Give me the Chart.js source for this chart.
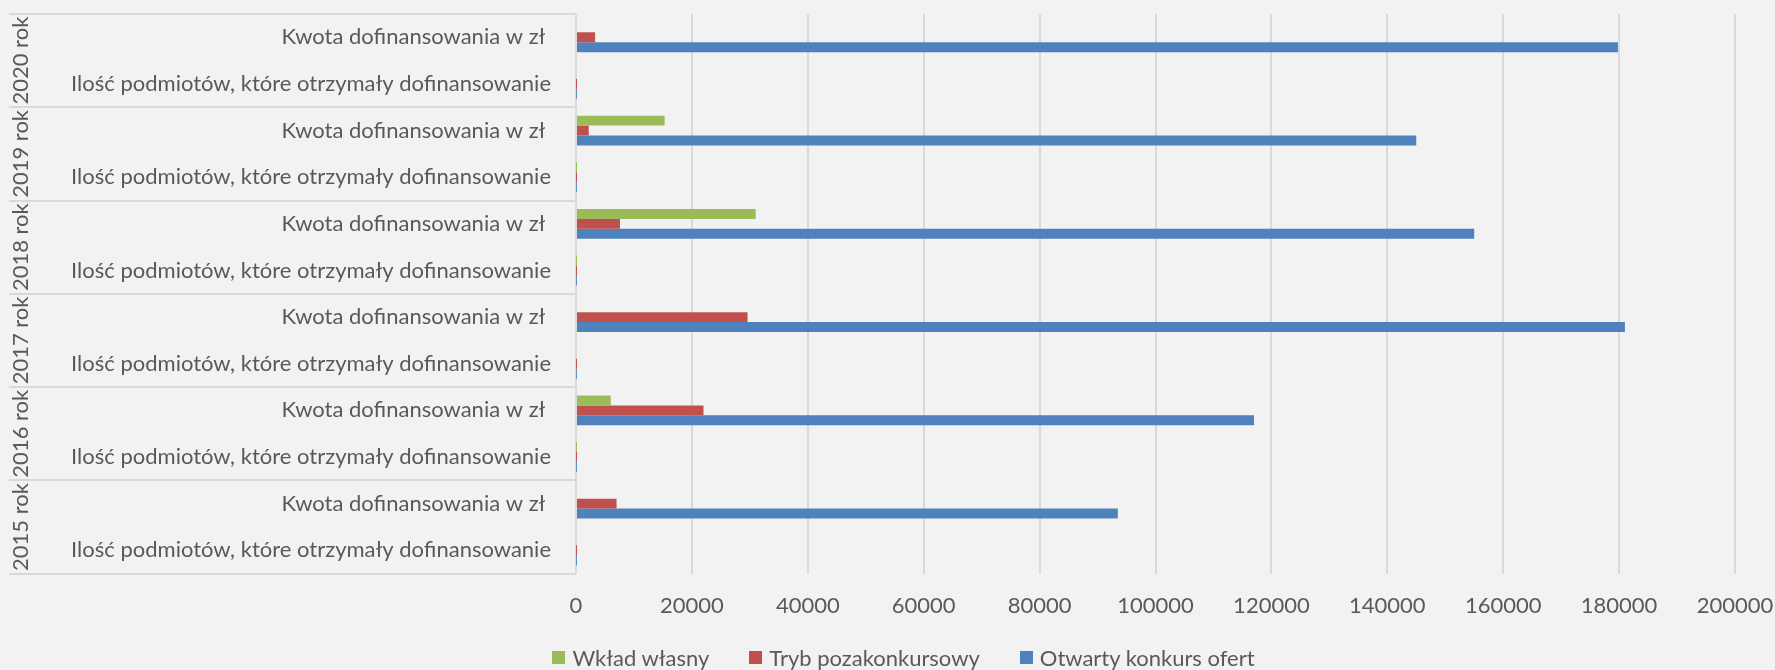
<!DOCTYPE html>
<html>
<head>
<meta charset="utf-8">
<script src="https://cdn.jsdelivr.net/npm/chart.js@4"></script>
<style>
  body { margin: 0; background: #f2f2f2; }
  #wrap { position: relative; width: 1775px; height: 670px; }
  #legend { position: absolute; left: 32px; right: 0; top: 644px; display: flex; justify-content: center; gap: 40px;
            font-family: Lato, sans-serif; font-size: 22px; color: #595959; }
  #legend span.item { display: flex; align-items: center; }
  #legend span.box { width: 13px; height: 13px; margin-right: 7px; display: inline-block; }
</style>
</head>
<body>
<div id="wrap">
  <canvas id="chart"></canvas>
  <div id="legend"></div>
</div>
<script>
const years = ['2020 rok', '2019 rok', '2018 rok', '2017 rok', '2016 rok', '2015 rok'];
const subLabels = ['Kwota dofinansowania w zł ', 'Ilość podmiotów, które otrzymały dofinansowanie'];

// per category, top to bottom: Kwota, Ilość for each year
const wkladWlasny = [0, 0, 15300, 2, 31000, 3, 0, 0, 6000, 1, 0, 0];
const trybPozakonkursowy = [3300, 1, 2200, 1, 7600, 3, 29600, 4, 22000, 4, 7000, 3];
const otwartyKonkurs = [179800, 30, 145000, 28, 155000, 27, 181000, 32, 117000, 25, 93500, 22];

const xTicks = [0, 20000, 40000, 60000, 80000, 100000, 120000, 140000, 160000, 180000, 200000];

const labels = [];
years.forEach(() => subLabels.forEach(s => labels.push(s)));

const font = { family: 'Lato', size: 22 };
const textColor = '#595959';
const lineColor = '#d9d9d9';

const yearBoxes = {
  id: 'yearBoxes',
  afterDraw(chart) {
    const { ctx, chartArea, scales: { y } } = chart;
    const step = y.getPixelForValue(1) - y.getPixelForValue(0);
    ctx.save();
    ctx.strokeStyle = lineColor;
    ctx.lineWidth = 2;
    for (let i = 0; i <= years.length; i++) {
      const yy = Math.round(y.getPixelForValue(i * 2) - step / 2);
      ctx.beginPath();
      ctx.moveTo(9, yy);
      ctx.lineTo(chartArea.left, yy);
      ctx.stroke();
    }
    ctx.fillStyle = textColor;
    ctx.font = font.size + 'px ' + font.family;
    ctx.textAlign = 'center';
    ctx.textBaseline = 'middle';
    years.forEach((yr, i) => {
      const cy = (y.getPixelForValue(i * 2) + y.getPixelForValue(i * 2 + 1)) / 2;
      ctx.save();
      ctx.translate(21, cy);
      ctx.rotate(-Math.PI / 2);
      ctx.fillText(yr, 0, 0);
      ctx.restore();
    });
    ctx.restore();
  }
};

const chart = new Chart(document.getElementById('chart'), {
  type: 'bar',
  data: {
    labels: labels,
    datasets: [
      { label: 'Wkład własny', data: wkladWlasny, backgroundColor: '#9bbb59' },
      { label: 'Tryb pozakonkursowy', data: trybPozakonkursowy, backgroundColor: '#c0504d' },
      { label: 'Otwarty konkurs ofert', data: otwartyKonkurs, backgroundColor: '#4f81bd' }
    ]
  },
  options: {
    indexAxis: 'y',
    responsive: true,
    maintainAspectRatio: false,
    animation: false,
    layout: { padding: { top: 14, left: 0, right: 40, bottom: 32 } },
    datasets: { bar: { barPercentage: 1, categoryPercentage: 0.64 } },
    plugins: {
      legend: { display: false },
      tooltip: { enabled: false }
    },
    scales: {
      x: {
        min: 0,
        max: 200000,
        afterBuildTicks: s => { s.ticks = xTicks.map(v => ({ value: v })); },
        ticks: { color: textColor, font: font, padding: 19, maxRotation: 0, callback: v => String(v) },
        grid: { color: lineColor, lineWidth: 2, drawTicks: false },
        border: { display: false },
        afterFit: s => { s.paddingLeft = 0; s.paddingRight = 0; }
      },
      y: {
        ticks: { color: textColor, font: font, padding: 25, autoSkip: false },
        grid: { display: false, drawTicks: false },
        border: { display: false },
        afterFit: s => { s.width = 576; s.paddingTop = 0; s.paddingBottom = 0; }
      }
    }
  },
  plugins: [yearBoxes]
});

const legendEl = document.getElementById('legend');
chart.data.datasets.forEach(ds => {
  const item = document.createElement('span');
  item.className = 'item';
  const box = document.createElement('span');
  box.className = 'box';
  box.style.background = ds.backgroundColor;
  item.appendChild(box);
  item.appendChild(document.createTextNode(ds.label));
  legendEl.appendChild(item);
});
</script>
</body>
</html>
